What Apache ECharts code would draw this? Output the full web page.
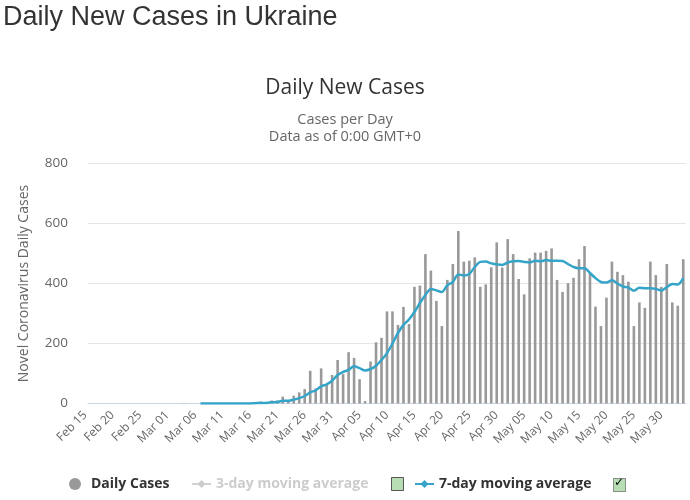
<!DOCTYPE html>
<html>
<head>
<meta charset="utf-8">
<script src="https://cdn.jsdelivr.net/npm/echarts@6/dist/echarts.min.js"></script>
<style>
html,body{margin:0;padding:0;background:#fff;}
#chart{width:690px;height:500px;}
</style>
</head>
<body>
<div id="chart"></div>
<script>
var categories = [
"Feb 15","Feb 16","Feb 17","Feb 18","Feb 19","Feb 20","Feb 21","Feb 22","Feb 23","Feb 24","Feb 25","Feb 26","Feb 27","Feb 28","Feb 29",
"Mar 01","Mar 02","Mar 03","Mar 04","Mar 05","Mar 06","Mar 07","Mar 08","Mar 09","Mar 10","Mar 11","Mar 12","Mar 13","Mar 14","Mar 15","Mar 16","Mar 17","Mar 18","Mar 19","Mar 20","Mar 21","Mar 22","Mar 23","Mar 24","Mar 25","Mar 26","Mar 27","Mar 28","Mar 29","Mar 30","Mar 31",
"Apr 01","Apr 02","Apr 03","Apr 04","Apr 05","Apr 06","Apr 07","Apr 08","Apr 09","Apr 10","Apr 11","Apr 12","Apr 13","Apr 14","Apr 15","Apr 16","Apr 17","Apr 18","Apr 19","Apr 20","Apr 21","Apr 22","Apr 23","Apr 24","Apr 25","Apr 26","Apr 27","Apr 28","Apr 29","Apr 30",
"May 01","May 02","May 03","May 04","May 05","May 06","May 07","May 08","May 09","May 10","May 11","May 12","May 13","May 14","May 15","May 16","May 17","May 18","May 19","May 20","May 21","May 22","May 23","May 24","May 25","May 26","May 27","May 28","May 29","May 30","May 31",
"Jun 01","Jun 02"
];

var dailyCases = [
0,0,0,0,0,0,0,0,0,0,0,0,0,0,0,
0,0,1,0,0,0,0,0,0,0,0,2,0,0,0,4,7,2,10,10,23,5,26,37,48,109,50,117,64,95,145,
98,171,152,81,8,140,204,219,307,307,262,322,265,389,393,498,443,342,258,412,465,575,473,476,487,389,397,454,537,453,
548,498,415,364,484,503,503,509,517,412,372,401,419,481,525,432,323,258,353,473,439,428,406,258,337,319,473,428,389,465,337,
326,481
];

var avg3day = [];

var avg7day = [
null,null,null,null,null,null,null,null,null,null,null,null,null,null,null,
null,null,null,null,null,0,0,0,0,0,0,0.3,0.3,0.3,0.3,1,2,2,4,5,9,9,13,18,25,37,44,57,64,76,95,
105,112,124,118,110,115,126,145,168,200,235,262,280,305,335,362,382,377,372,394,405,430,427,432,455,472,473,467,464,462,
470,474,475,472,470,476,474,478,476,476,475,465,455,451,451,435,418,405,403,411,400,390,386,376,386,384,384,382,377,388,398,
397,418
];

var yTicks = [0, 200, 400, 600, 800];

var chart = echarts.init(document.getElementById('chart'), null, {renderer: 'canvas'});
var FONT = '"Open Sans", "DejaVu Sans", sans-serif';

chart.setOption({
  animation: false,
  backgroundColor: '#ffffff',
  title: [
    {text: 'Daily New Cases in Ukraine', left: 3, top: 4, padding: 0,
     textStyle: {fontFamily: '"Liberation Sans", Arial, sans-serif', fontSize: 27, fontWeight: 'normal', color: '#333333'}},
    {text: 'Daily New Cases', left: 'center', top: 78, padding: 0,
     textStyle: {fontFamily: FONT, fontSize: 21, fontWeight: 'normal', color: '#333333'}},
    {text: 'Cases per Day\nData as of 0:00 GMT+0', left: 'center', top: 111, padding: 0,
     textStyle: {fontFamily: FONT, fontSize: 14.5, fontWeight: 'normal', color: '#666666', lineHeight: 17, align: 'center'}}
  ],
  grid: {left: 88, right: 4, top: 163.5, bottom: 96.5, containLabel: false},
  legend: [
    {data: ['Daily Cases'], left: 64, top: 472, icon: 'circle', itemWidth: 12, itemHeight: 12,
     textStyle: {fontFamily: FONT, fontSize: 14, fontWeight: 'bold', color: '#333333', padding: [0, 0, 0, 5]}},
    {data: ['3-day moving average'], left: 186, top: 472, itemWidth: 19, itemHeight: 10,
     selected: {'3-day moving average': false}, inactiveColor: '#cccccc',
     textStyle: {fontFamily: FONT, fontSize: 14, fontWeight: 'bold', color: '#333333'}},
    {data: ['7-day moving average'], left: 409, top: 472, itemWidth: 19, itemHeight: 10,
     textStyle: {fontFamily: FONT, fontSize: 14, fontWeight: 'bold', color: '#333333'}}
  ],
  xAxis: {
    type: 'category',
    data: categories,
    boundaryGap: true,
    axisLine: {lineStyle: {color: '#ccd6eb'}},
    axisTick: {show: false},
    axisLabel: {interval: 4, rotate: 45, color: '#666666', fontFamily: FONT, fontSize: 12, margin: 4, padding: [0, 8, 0, 0]}
  },
  yAxis: {
    type: 'value',
    min: yTicks[0], max: yTicks[yTicks.length - 1], interval: 200,
    name: 'Novel Coronavirus Daily Cases',
    nameLocation: 'middle', nameGap: 57, nameRotate: 90,
    nameTextStyle: {color: '#666666', fontFamily: FONT, fontSize: 14},
    axisLine: {show: false}, axisTick: {show: false},
    axisLabel: {color: '#666666', fontFamily: FONT, fontSize: 13.5, margin: 20},
    splitLine: {lineStyle: {color: '#e6e6e6', width: 1}}
  },
  series: [
    {name: 'Daily Cases', type: 'bar', data: dailyCases, barWidth: 2.6,
     itemStyle: {color: '#999999'}},
    {name: '3-day moving average', type: 'line', data: avg3day, symbol: 'diamond', symbolSize: 7,
     itemStyle: {color: '#cccccc'}, lineStyle: {color: '#cccccc', width: 2}},
    {name: '7-day moving average', type: 'line', data: avg7day, symbol: 'diamond', symbolSize: 7, showSymbol: false,
     smooth: 0.3, connectNulls: false,
     itemStyle: {color: '#35a4c9'}, lineStyle: {color: '#35a4c9', width: 2.5}}
  ],
  graphic: [
    {type: 'rect', left: 391, top: 477, shape: {width: 12, height: 13},
     style: {fill: '#b8dcb4', stroke: '#555555', lineWidth: 1}},
    {type: 'rect', left: 613, top: 478, shape: {width: 12, height: 13},
     style: {fill: '#b8dcb4', stroke: '#333333', lineWidth: 1, lineDash: [1, 1]}},
    {type: 'text', left: 614, top: 477,
     style: {text: '✓', fill: '#000000', font: 'bold 12px "DejaVu Sans"'}}
  ]
});
</script>
</body>
</html>
